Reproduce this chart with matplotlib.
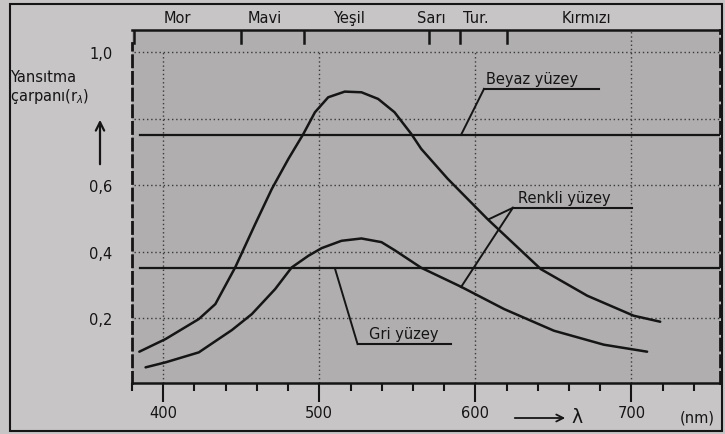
import matplotlib
matplotlib.use("Agg")
import matplotlib.pyplot as plt
from matplotlib.patches import Rectangle, FancyArrowPatch

# ---- data ----
wl_high = [384.7, 401.5, 422.8, 433.4, 446.1, 458.9, 469.6, 480.2, 489.8, 497.2,
           505.7, 516.3, 527.0, 537.7, 548.2, 558.9, 565.3, 582.3, 607.8, 641.9, 671.7,
           701.4, 718.4]
r_high = [0.100, 0.138, 0.198, 0.243, 0.353, 0.483, 0.589, 0.679, 0.754, 0.819,
          0.864, 0.881, 0.879, 0.859, 0.819, 0.754, 0.709, 0.619, 0.498, 0.348, 0.268,
          0.208, 0.190]

wl_low = [388.7, 401.5, 422.8, 444.0, 456.8, 471.7, 482.3, 493.0, 501.5, 514.2, 527.0,
          539.8, 548.2, 565.3, 590.8, 618.4, 650.3, 682.3, 710.0]
r_low = [0.053, 0.068, 0.098, 0.165, 0.213, 0.288, 0.353, 0.388, 0.411, 0.433, 0.440,
         0.429, 0.405, 0.352, 0.295, 0.228, 0.163, 0.121, 0.100]

beyaz_level = 0.75
gri_level = 0.35

band_edges = [450, 490, 570, 590, 620]
band_names = ["Mor", "Mavi", "Yeşil", "Sarı", "Tur.", "Kırmızı"]
band_centers = [409, 465, 519, 572, 600, 671]

x_major = [400, 500, 600, 700]
x_major_labels = ["400", "500", "600", "700"]
x_minor = list(range(380, 741, 20))
y_ticks = [0.2, 0.4, 0.6, 1.0]
y_tick_labels = ["0,2", "0,4", "0,6", "1,0"]
grid_y = [0.2, 0.4, 0.6, 0.8, 1.0]

W, H = 725, 435
fig = plt.figure(figsize=(W / 100, H / 100), dpi=100, facecolor="#c8c5c6")
L, R, B, T = 132, 720, 384, 31
ax = fig.add_axes([L / W, 1 - B / H, (R - L) / W, (B - T) / H])
ax.set_facecolor("#b0aeaf")
X0, X1 = 381.5, 756.7
ax.set_xlim(X0, X1)
ax.set_ylim(0.006, 1.066)

FS = 10.5
ink = "#151515"

# grid
for g in grid_y:
    ax.plot([X0, X1], [g, g], ls=(0, (1, 2)), color="#3a3a3a", lw=1.0, zorder=1)
for gx in x_major:
    top = 1.066 if gx == 700 else 1.0
    ax.plot([gx, gx], [0.006, top], ls=(0, (1, 2)), color="#3a3a3a", lw=1.0, zorder=1)

# top colour band
ax.plot([X0, X0], [1.027, 1.066], color=ink, lw=1.8, zorder=3)
for e in band_edges:
    ax.plot([e, e], [1.027, 1.066], color=ink, lw=1.8, zorder=3)
for name, c in zip(band_names, band_centers):
    ax.text(c, 1.105, name, ha="center", va="center", fontsize=FS, color=ink)

# flat surfaces
ax.plot([385, X1], [beyaz_level, beyaz_level], color=ink, lw=1.6, zorder=2)
ax.plot([385, X1], [gri_level, gri_level], color=ink, lw=1.6, zorder=2)

# curves
ax.plot(wl_high, r_high, color=ink, lw=1.8, zorder=4, solid_capstyle="round",
        solid_joinstyle="round")
ax.plot(wl_low, r_low, color=ink, lw=1.8, zorder=4, solid_capstyle="round",
        solid_joinstyle="round")

# spines
for s in ["left", "right"]:
    ax.spines[s].set_linestyle((0, (4, 2)))
    ax.spines[s].set_linewidth(2.0)
    ax.spines[s].set_color(ink)
ax.spines["left"].set_bounds(0.006, 1.027)
for s in ["top", "bottom"]:
    ax.spines[s].set_linewidth(1.8)
    ax.spines[s].set_color(ink)

# ticks
ax.set_xticks(x_major)
ax.set_xticklabels(x_major_labels)
ax.set_xticks(x_minor, minor=True)
ax.tick_params(axis="x", which="major", direction="out", length=14, width=1.5,
               colors=ink, labelsize=FS, pad=2)
ax.tick_params(axis="x", which="minor", direction="out", length=6, width=1.5, colors=ink)
ax.set_yticks(y_ticks)
ax.set_yticklabels(y_tick_labels)
ax.tick_params(axis="y", length=0, pad=14, labelsize=FS, colors=ink)
ax.tick_params(axis="y", which="minor", length=0)

# labels with underline and pointers
def label(text, tx, ty, ux0, ux1, uy, pointers):
    ax.text(tx, ty, text, ha="left", va="center", fontsize=FS, color=ink, zorder=5)
    ax.plot([ux0, ux1], [uy, uy], color=ink, lw=1.5, zorder=5)
    for px, py in pointers:
        ax.plot([ux0, px], [uy, py], color=ink, lw=1.4, zorder=5)

label("Beyaz yüzey", 607, 0.919, 605.5, 679, 0.889, [(590.8, 0.751)])
label("Renkli yüzey", 627, 0.562, 624.0, 700.5, 0.532, [(608.7, 0.498), (590.8, 0.294)])
label("Gri yüzey", 532, 0.156, 524.5, 584.4, 0.123, [(510.0, 0.35)])

# y label and arrow
fig.text(10 / W, 1 - 78 / H, "Yansıtma", ha="left", va="center", fontsize=FS, color=ink)
fig.text(10 / W, 1 - 97 / H, "çarpanı(r$_λ$)", ha="left", va="center", fontsize=FS, color=ink)
fig.add_artist(FancyArrowPatch((100 / W, 1 - 168 / H), (100 / W, 1 - 118 / H),
                               transform=fig.transFigure, arrowstyle="->,head_length=6,head_width=3",
                               color=ink, lw=1.6))

# x axis arrow
fig.add_artist(FancyArrowPatch((512 / W, 1 - 419 / H), (568 / W, 1 - 419 / H),
                               transform=fig.transFigure, arrowstyle="->,head_length=5,head_width=2.5",
                               color=ink, lw=1.3))
fig.text(577 / W, 1 - 418 / H, "λ", ha="center", va="center", fontsize=FS + 3, color=ink)
fig.text(697 / W, 1 - 418 / H, "(nm)", ha="center", va="center", fontsize=FS, color=ink)

# outer frame
fig.add_artist(Rectangle((10 / W, 1 - 432 / H), 712 / W, 427 / H, transform=fig.transFigure,
                         fill=False, ec=ink, lw=1.5))

fig.savefig("out.png", dpi=100, facecolor=fig.get_facecolor())
